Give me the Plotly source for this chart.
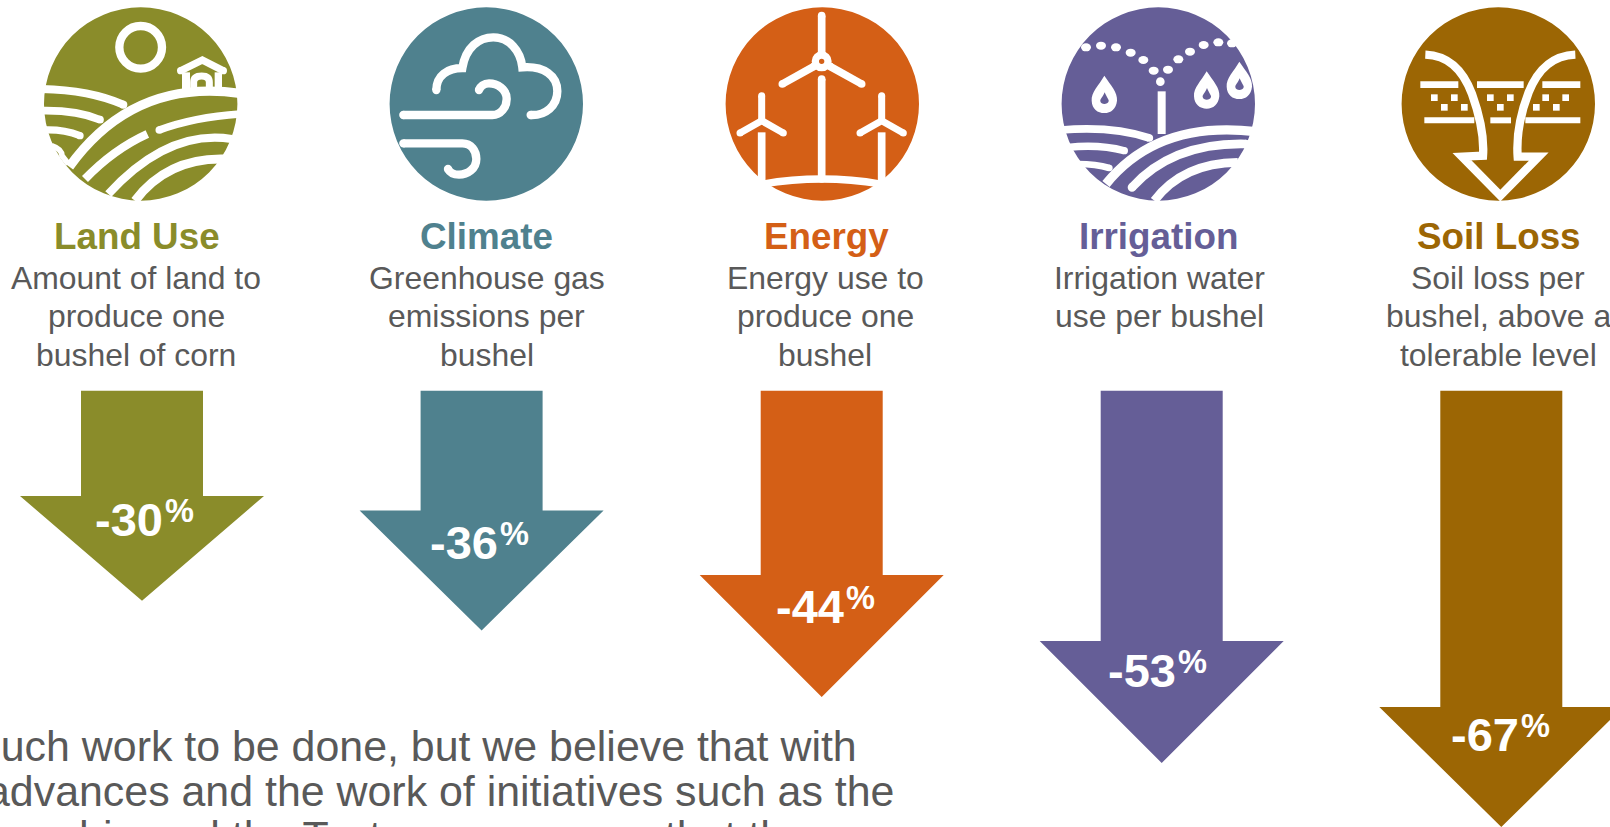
import re
import plotly.graph_objects as go

# ---------- data ----------
categories = ["Land Use", "Climate", "Energy", "Irrigation", "Soil Loss"]
reductions = [-30, -36, -44, -53, -67]
descriptions = [
    ["Amount of land to", "produce one", "bushel of corn"],
    ["Greenhouse gas", "emissions per", "bushel"],
    ["Energy use to", "produce one", "bushel"],
    ["Irrigation water", "use per bushel"],
    ["Soil loss per", "bushel, above a", "tolerable level"],
]
footer_lines = [
    "much work to be done, but we believe that with",
    "advances and the work of initiatives such as the",
    "Partnership and the Test programs, we that the",
]

# ---------- styles and layout (pixel canvas) ----------
W, H = 1610, 827
colors = ["#8A8C2A", "#4F818E", "#D45F16", "#655E97", "#9C6604"]
TEXT = "#595959"
FONT = "Liberation Sans, Arial, sans-serif"
icon_cx = [140.7, 486.3, 822.3, 1158.3, 1498.3]
ICON_CY, ICON_R = 104.0, 96.7
crop_x = [40, 384, 720, 1056, 1397]
title_x = [137.4, 486.7, 826.0, 1158.6, 1498.5]
desc_x = [136.4, 486.7, 825.0, 1159.5, 1498.0]
arrow_x = [142.0, 481.6, 821.7, 1161.7, 1501.3]
ARROW_TOP, SHAFT_HW, HEAD_HW = 390.7, 61.0, 122.0
shoulder_y = [496.0, 510.5, 575.0, 641.0, 707.0]
tip_y = [600.7, 630.5, 697.0, 763.0, 827.0]
label_x = [144.5, 480.0, 826.0, 1158.0, 1501.0]
label_base = [536.0, 559.0, 623.0, 687.0, 751.0]

shapes, annotations = [], []


def to_px(ox, s):
    """Convert a path written in a 600-unit icon crop to canvas pixels."""
    toks = re.findall(r"[A-Za-z]|-?\d+\.?\d*", s)
    out, i = [], 0
    for t in toks:
        if t.isalpha():
            out.append(t)
        else:
            out.append(f"{(ox if i % 2 == 0 else 4) + float(t) / 3:.2f}")
            i += 1
    return " ".join(out)


def shape_path(ox, s, fill="white"):
    shapes.append(dict(type="path", path=to_px(ox, s), fillcolor=fill, line=dict(width=0),
                       xref="x", yref="y", layer="above"))


def disc(ox, x, y, rx, ry=None, fill="white"):
    ry = rx if ry is None else ry
    shapes.append(dict(type="circle", xref="x", yref="y", layer="above", fillcolor=fill, line=dict(width=0),
                       x0=ox + (x - rx) / 3, x1=ox + (x + rx) / 3,
                       y0=4 + (y - ry) / 3, y1=4 + (y + ry) / 3))


def stroke(ox, s, w=24, caps=True):
    shapes.append(dict(type="path", path=to_px(ox, s), fillcolor="rgba(0,0,0,0)",
                       line=dict(color="white", width=w / 3), xref="x", yref="y", layer="above"))
    if caps:
        nums = re.findall(r"-?\d+\.?\d*", s)
        for a, b in ((nums[0], nums[1]), (nums[-2], nums[-1])):
            disc(ox, float(a), float(b), w / 2)


def ring(ox, x, y, r, w):
    shapes.append(dict(type="circle", xref="x", yref="y", layer="above", fillcolor="rgba(0,0,0,0)",
                       line=dict(color="white", width=w / 3),
                       x0=ox + (x - r) / 3, x1=ox + (x + r) / 3, y0=4 + (y - r) / 3, y1=4 + (y + r) / 3))


def rect(ox, x0, y0, x1, y1):
    shape_path(ox, f"M {x0} {y0} L {x1} {y0} L {x1} {y1} L {x0} {y1} Z")


def text(x, base, s, size, color, bold=False, anchor="center"):
    annotations.append(dict(x=x, y=base - 0.94 * size, xref="x", yref="y", text=f"<b>{s}</b>" if bold else s,
                            showarrow=False, xanchor=anchor, yanchor="top", borderpad=0,
                            font=dict(family=FONT, size=size, color=color)))


# ---------- icon backgrounds ----------
for cx, c in zip(icon_cx, colors):
    shapes.append(dict(type="circle", xref="x", yref="y", layer="above", fillcolor=c, line=dict(width=0),
                       x0=cx - ICON_R, x1=cx + ICON_R, y0=ICON_CY - ICON_R, y1=ICON_CY + ICON_R))

# ---------- Land Use icon ----------
o = crop_x[0]
ring(o, 302, 130, 64, 25)
stroke(o, "M 422 200 L 487 168 L 550 200", 22)
stroke(o, "M 438 205 L 438 270", 24, caps=False)
stroke(o, "M 535 205 L 535 252", 22, caps=False)
stroke(o, "M 461 262 L 461 235 Q 461 216 485 216 Q 508 216 508 235 L 508 256", 21, caps=False)
stroke(o, "M 88 488 Q 280 222 600 268", 28, caps=False)
stroke(o, "M 5 255 Q 150 258 250 302", 24)
stroke(o, "M 5 320 Q 110 318 180 347", 23)
stroke(o, "M 15 378 Q 70 376 120 395", 22)
stroke(o, "M 35 425 Q 65 435 66 455 L 85 480", 17, caps=False)
stroke(o, "M 358 378 Q 460 340 600 330", 23)
stroke(o, "M 135 525 Q 221 436 322 390", 25, caps=False)
stroke(o, "M 205 570 Q 384 375 575 405", 25, caps=False)
stroke(o, "M 285 590 Q 382 462 550 465", 27, caps=False)

# ---------- Climate icon ----------
o = crop_x[1]
stroke(o, "M 157 258 C 157 215 190 192 235 192 C 245 130 285 100 328 100 C 375 100 410 140 415 190 "
          "C 480 185 520 215 520 262 C 520 305 485 335 440 333", 25)
stroke(o, "M 58 333 L 325 333 C 350 333 368 310 368 285 C 368 255 340 238 315 238 C 300 238 288 248 285 258", 25)
stroke(o, "M 58 418 L 235 418 C 262 418 277 440 277 465 C 277 495 250 512 225 512 C 210 512 197 505 192 495", 25)

# ---------- Energy icon ----------
o = crop_x[2]
stroke(o, "M 305 35 L 305 150", 23)
ring(o, 305, 172, 19, 22)
stroke(o, "M 187 240 L 282 187", 23)
stroke(o, "M 425 240 L 330 187", 23)
stroke(o, "M 305 225 L 305 525", 23)
for tx in (125, 485):
    stroke(o, f"M {tx} 275 L {tx} 350", 21)
    stroke(o, f"M {tx - 65} 387 L {tx} 350 L {tx + 65} 387", 21)
    stroke(o, f"M {tx} 385 L {tx} 540", 23, caps=False)
stroke(o, "M 128 540 Q 305 510 482 540", 22, caps=False)

# ---------- Irrigation icon ----------
o = crop_x[3]
dots = [(90, 130), (135, 125), (180, 130), (224, 146), (262, 168), (293, 200), (336, 197),
        (367, 166), (402, 143), (443, 123), (487, 115), (528, 118)]
for dx, dy in dots:
    disc(o, dx, dy, 15, 12)
disc(o, 313, 233, 13)
rect(o, 305, 262, 329, 390)
for sx, sy in ((0, 0), (307, -13), (405, -42)):
    shape_path(o, f"M {145 + sx} {215 + sy} C {165 + sx} {245 + sy} {185 + sx} {265 + sy} {183 + sx} {290 + sy} "
                  f"C {180 + sx} {315 + sy} {165 + sx} {327 + sy} {145 + sx} {327 + sy} "
                  f"C {125 + sx} {327 + sy} {108 + sx} {315 + sy} {107 + sx} {290 + sy} "
                  f"C {105 + sx} {265 + sy} {128 + sx} {245 + sy} {145 + sx} {215 + sy} Z")
    shape_path(o, f"M {146 + sx} {265 + sy} C {152 + sx} {280 + sy} {160 + sx} {288 + sy} {158 + sx} {292 + sy} "
                  f"C {155 + sx} {303 + sy} {135 + sx} {303 + sy} {133 + sx} {292 + sy} "
                  f"C {132 + sx} {285 + sy} {140 + sx} {280 + sy} {146 + sx} {265 + sy} Z", fill=colors[3])
stroke(o, "M 15 378 Q 170 365 280 402", 23)
stroke(o, "M 35 430 Q 130 420 205 440", 22)
stroke(o, "M 65 480 Q 120 480 160 492", 20)
stroke(o, "M 150 540 Q 305 348 600 383", 28, caps=False)
stroke(o, "M 228 550 Q 351 415 570 420", 26)
stroke(o, "M 295 590 Q 380 477 545 475", 26, caps=False)

# ---------- Soil Loss icon ----------
o = crop_x[4]
for x0, y0, x1, y1 in [(70, 232, 184, 252), (240, 232, 380, 252), (436, 232, 550, 252),
                       (82, 340, 232, 358), (280, 340, 342, 358), (385, 340, 550, 358)]:
    rect(o, x0, y0, x1, y1)
for sq_x, sq_y in [(112, 281), (172, 281), (142, 310), (202, 310), (280, 281), (340, 281), (310, 310),
                   (446, 281), (506, 281), (418, 310), (478, 310)]:
    rect(o, sq_x - 10, sq_y - 10, sq_x + 10, sq_y + 10)
stroke(o, "M 85 152 C 150 155 195 190 225 270 C 250 340 262 400 258 455 L 195 458 L 310 575 L 425 458 L 362 458 "
          "C 358 400 370 330 395 265 C 425 190 470 155 535 152", 25, caps=False)

# ---------- arrows (drawn as filled traces) ----------
fig = go.Figure()
for cat, ax, sy, ty, c in zip(categories, arrow_x, shoulder_y, tip_y, colors):
    xs = [ax - SHAFT_HW, ax + SHAFT_HW, ax + SHAFT_HW, ax + HEAD_HW, ax, ax - HEAD_HW, ax - SHAFT_HW, ax - SHAFT_HW]
    ys = [ARROW_TOP, ARROW_TOP, sy, sy, ty, sy, sy, ARROW_TOP]
    fig.add_trace(go.Scatter(x=xs, y=ys, mode="lines", fill="toself", fillcolor=c, line=dict(width=0),
                             name=cat, hoverinfo="skip", cliponaxis=True))

# ---------- text ----------
for cat, tx, dx, lines, c in zip(categories, title_x, desc_x, descriptions, colors):
    text(tx, 249.5, cat, 36.8, c, bold=True)
    for i, ln in enumerate(lines):
        text(dx, 288.8 + 38.4 * i, ln, 31.9, TEXT)

for v, lx, lb in zip(reductions, label_x, label_base):
    text(lx + 19, lb, f"{v}", 47, "white", bold=True, anchor="right")
    text(lx + 19, lb - 14, "%", 32.6, "white", bold=True, anchor="left")

text(858, 761.7, footer_lines[0], 42.9, TEXT, anchor="right")
text(895, 806, footer_lines[1], 42.9, TEXT, anchor="right")
text(809, 851.3, footer_lines[2], 42.9, TEXT, anchor="right")

fig.update_layout(
    width=W, height=H, autosize=False, margin=dict(l=0, r=0, t=0, b=0), showlegend=False,
    paper_bgcolor="white", plot_bgcolor="white", shapes=shapes, annotations=annotations,
    xaxis=dict(range=[0, W], visible=False, fixedrange=True),
    yaxis=dict(range=[H, 0], visible=False, fixedrange=True),
)
fig.write_html("out.html", config=dict(displayModeBar=False),
               post_script="document.body.style.margin='0';document.body.style.overflow='hidden';")
